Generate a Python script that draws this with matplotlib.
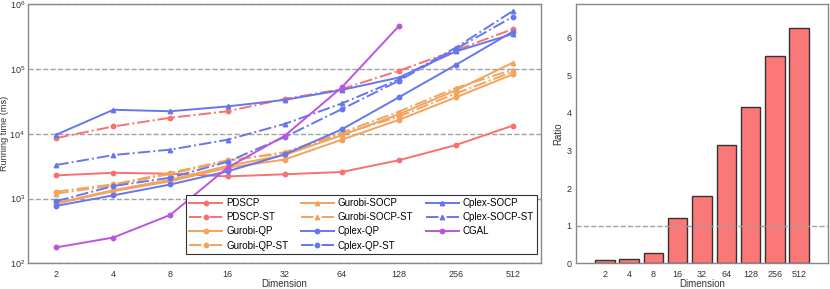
import numpy as np
import matplotlib
matplotlib.use("Agg")
import matplotlib.pyplot as plt

plt.rcParams["font.family"] = ["Liberation Sans", "DejaVu Sans"]
plt.rcParams["mathtext.fontset"] = "custom"
plt.rcParams["mathtext.rm"] = "Liberation Sans"

# data
dims = [2, 4, 8, 16, 32, 64, 128, 256, 512]
dim_labels = [str(d) for d in dims]

pdscp = [2280, 2500, 2420, 2200, 2370, 2570, 3900, 6700, 13400]
pdscp_st = [8600, 13000, 17700, 22300, 34500, 49000, 94000, 195000, 415000]
gurobi_qp = [830, 1300, 1850, 3000, 4000, 8100, 16400, 36600, 83000]
gurobi_qp_st = [1280, 1660, 2500, 3900, 5000, 9800, 18500, 42000, 91000]
gurobi_socp = [850, 1350, 1950, 3200, 4700, 9500, 20000, 47000, 126000]
gurobi_socp_st = [1190, 1600, 2400, 3800, 5200, 10400, 22000, 51000, 98000]
cplex_qp = [770, 1120, 1650, 2630, 4800, 11700, 36600, 116000, 380000]
cplex_qp_st = [910, 1560, 2100, 3700, 8900, 24000, 66000, 204000, 645000]
cplex_socp = [9700, 23500, 22300, 26500, 33400, 47500, 74000, 187000, 350000]
cplex_socp_st = [3300, 4700, 5700, 8100, 14200, 29400, 69000, 215000, 790000]
cgal_dims = [2, 4, 8, 16, 32, 64, 128]
cgal = [176, 250, 560, 3000, 9300, 52000, 460000]

ratio = [0.087, 0.12, 0.26, 1.20, 1.80, 3.13, 4.15, 5.52, 6.25]

RED = "#F87171"
ORANGE = "#F2A35E"
BLUE = "#6677EE"
PURPLE = "#BB55DD"

series = [
    ("PDSCP", pdscp, RED, "-", "o"),
    ("PDSCP-ST", pdscp_st, RED, "-.", "o"),
    ("Gurobi-QP", gurobi_qp, ORANGE, "-", "o"),
    ("Gurobi-QP-ST", gurobi_qp_st, ORANGE, "-.", "o"),
    ("Gurobi-SOCP", gurobi_socp, ORANGE, "-", "^"),
    ("Gurobi-SOCP-ST", gurobi_socp_st, ORANGE, "-.", "^"),
    ("Cplex-QP", cplex_qp, BLUE, "-", "o"),
    ("Cplex-QP-ST", cplex_qp_st, BLUE, "-.", "o"),
    ("Cplex-SOCP", cplex_socp, BLUE, "-", "^"),
    ("Cplex-SOCP-ST", cplex_socp_st, BLUE, "-.", "^"),
]

fig = plt.figure(figsize=(8.3, 2.89), dpi=100)
ax = fig.add_axes([0.0334, 0.089, 0.619, 0.896])
ax2 = fig.add_axes([0.6936, 0.089, 0.3043, 0.896])

for name, vals, c, ls, mk in series:
    ax.plot(dims, vals, color=c, ls=ls, marker=mk, ms=3.2, lw=1.4, label=name)
ax.plot(cgal_dims, cgal, color=PURPLE, ls="-", marker="o", ms=3.2, lw=1.4, label="CGAL")

ax.set_xscale("log", base=2)
ax.set_yscale("log")
ax.set_xlim(2 ** 0.5, 2 ** 9.5)
ax.set_ylim(1e2, 1e6)
ax.set_xticks(dims)
ax.set_xticklabels(dim_labels)
ax.set_xticks([], minor=True)
ax.set_yticks([], minor=True)
ax.yaxis.grid(True, which="major", ls="--", color="#A0A0A0", lw=1)
ax.set_axisbelow(True)
ax.set_xlabel("Dimension", fontsize=7, labelpad=0, color="#333333")
ax.set_ylabel("Running time (ms)", fontsize=6.6, color="#333333")
ax.yaxis.set_label_coords(-0.037, 0.5)

leg = ax.legend(ncol=3, loc="lower right", bbox_to_anchor=(0.992, 0.036), fontsize=7,
                handlelength=3.4, columnspacing=1.3, handletextpad=0.4,
                labelspacing=0.42, borderpad=0.35, borderaxespad=0,
                fancybox=False, framealpha=1)
leg.get_frame().set_edgecolor("#333333")
leg.get_frame().set_linewidth(0.8)

# ratio bars
xpos = np.arange(len(dims))
ax2.bar(xpos, ratio, width=0.8, color="#FA7878", edgecolor="#333333", lw=1)
ax2.axhline(1, ls="--", color="#A0A0A0", lw=1)
ax2.set_xlim(-1.2, 9.2)
ax2.set_ylim(0, 6.88)
ax2.set_xticks(xpos)
ax2.set_xticklabels(dim_labels)
ax2.set_yticks(range(7))
ax2.set_xlabel("Dimension", fontsize=7, labelpad=0, color="#333333")
ax2.set_ylabel("Ratio", fontsize=7, color="#333333")
ax2.yaxis.set_label_coords(-0.05, 0.5)

for a in (ax, ax2):
    a.tick_params(axis="both", which="both", length=0, labelsize=6.5, colors="#333333", pad=3)
    a.tick_params(axis="x", pad=5)
    for s in a.spines.values():
        s.set_color("#888888")
        s.set_linewidth(1)
ax.tick_params(axis="y", pad=2)

fig.savefig("out.png", dpi=100)
